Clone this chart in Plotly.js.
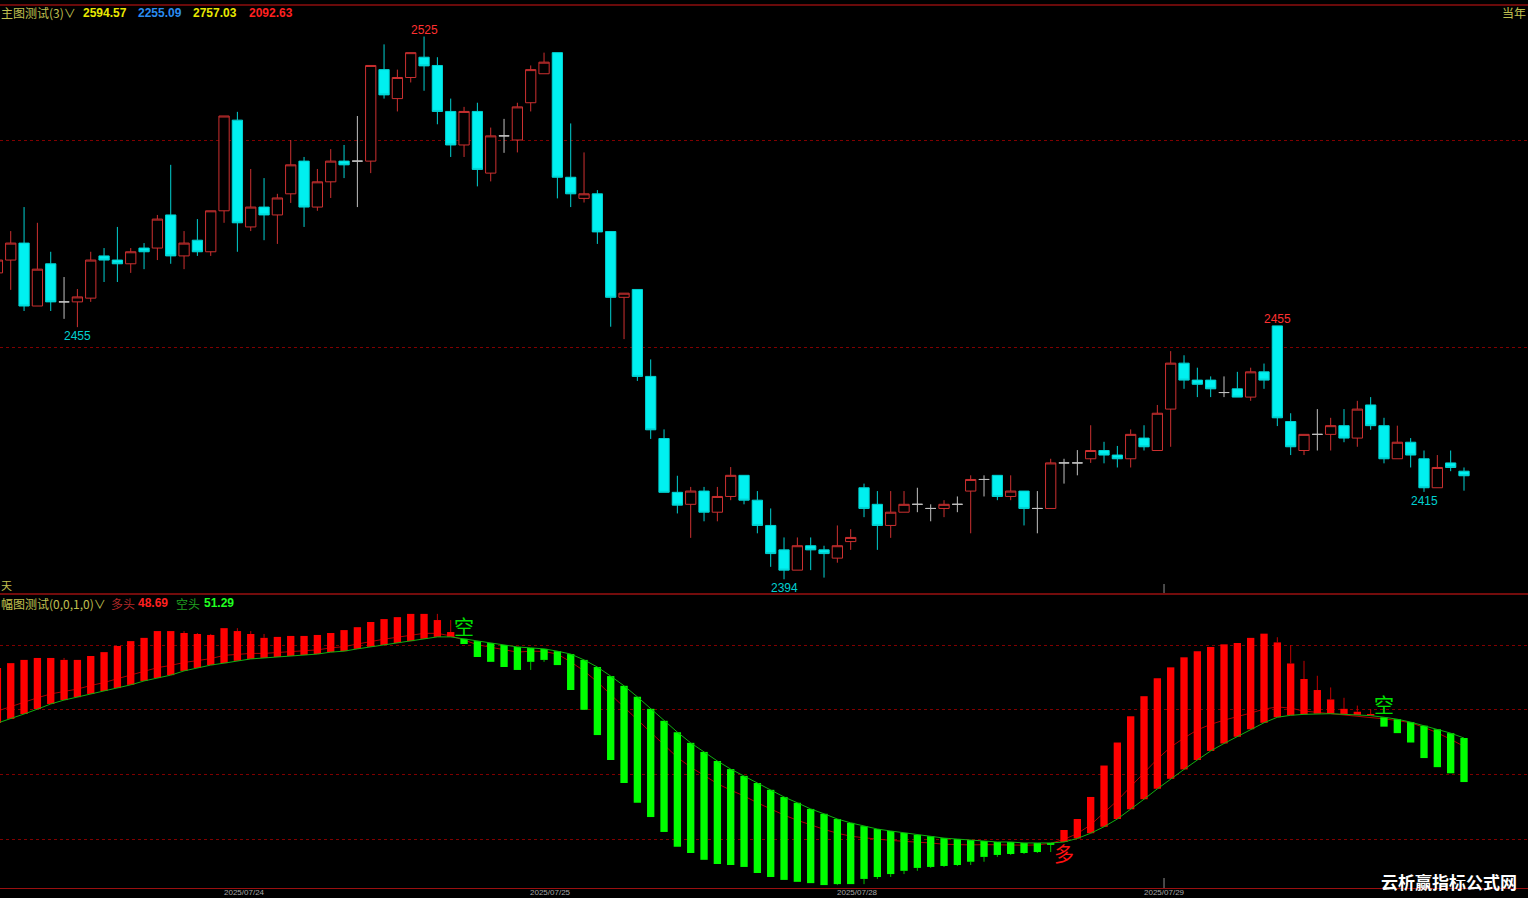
<!DOCTYPE html>
<html><head><meta charset="utf-8">
<script src="https://cdn.plot.ly/plotly-3.0.1.min.js"></script>
<style>html,body{margin:0;padding:0;background:#000;overflow:hidden}#chart{width:1528px;height:898px;}</style>
</head><body><div id="chart"></div>
<script>
// ---- main panel candles (index = bar number) ----
const openP = [2467.9,2471.0,2475.1,2459.9,2470.1,2460.9,2460.9,2461.8,2472.0,2471.0,
2470.1,2473.9,2473.9,2481.9,2472.0,2475.8,2473.0,2482.9,2504.8,2479.0,
2483.8,2481.9,2487.0,2494.9,2483.8,2489.9,2494.9,2494.9,2494.9,2517.0,
2510.0,2515.1,2520.0,2518.0,2506.9,2498.8,2506.9,2492.0,2501.0,2500.0,
2509.0,2516.0,2521.1,2491.0,2485.9,2487.0,2477.9,2462.0,2463.9,2442.9,
2427.9,2414.9,2412.0,2415.2,2410.1,2413.9,2419.0,2413.0,2406.9,2401.0,
2396.1,2402.0,2401.0,2399.0,2403.0,2416.0,2412.0,2406.9,2410.1,2412.0,
2411.0,2411.0,2412.0,2415.2,2418.0,2419.0,2413.9,2415.2,2411.0,2411.0,
2422.0,2422.0,2423.0,2425.0,2423.9,2423.0,2428.0,2425.0,2435.0,2446.1,
2442.0,2442.0,2439.0,2439.9,2437.9,2444.0,2455.1,2432.0,2425.0,2428.9,
2428.9,2431.0,2428.0,2436.0,2431.0,2423.0,2427.0,2423.0,2416.0,2422.0,
2420.0];
const highP = [2472.2,2478.0,2483.8,2480.0,2473.0,2466.9,2464.0,2473.0,2473.9,2479.0,
2473.9,2475.1,2481.9,2494.0,2478.0,2480.9,2482.9,2505.8,2506.8,2493.0,
2490.8,2487.0,2500.0,2495.9,2493.0,2497.8,2498.8,2505.8,2518.0,2523.1,
2517.0,2521.1,2525.0,2520.0,2510.0,2508.0,2509.0,2503.0,2505.1,2509.0,
2518.0,2521.1,2521.1,2504.0,2497.0,2487.9,2477.9,2463.0,2463.9,2447.0,
2430.1,2418.9,2416.2,2416.2,2416.2,2421.0,2419.0,2415.2,2411.0,2404.0,
2404.0,2404.0,2402.0,2406.9,2406.0,2417.0,2415.2,2415.2,2415.2,2416.0,
2412.0,2413.0,2413.9,2419.0,2419.0,2419.0,2419.0,2415.2,2415.2,2423.0,
2423.0,2425.1,2431.1,2427.1,2426.1,2430.1,2431.1,2436.0,2449.0,2448.0,
2445.0,2442.9,2442.9,2444.0,2445.0,2446.0,2455.1,2434.0,2428.9,2435.0,
2432.9,2435.0,2437.0,2437.9,2432.9,2431.0,2428.0,2425.0,2423.9,2425.0,
2420.9];
const lowP = [2466.7,2463.8,2458.7,2459.9,2458.7,2456.8,2454.8,2460.9,2465.7,2465.7,
2467.9,2468.8,2471.0,2470.1,2468.8,2472.0,2472.0,2480.0,2473.0,2478.0,
2475.8,2474.9,2484.8,2479.0,2482.9,2486.0,2490.8,2483.8,2492.0,2510.0,
2506.9,2513.9,2511.9,2503.8,2495.9,2495.9,2488.8,2490.0,2496.9,2497.0,
2506.9,2516.0,2485.9,2483.8,2484.9,2474.9,2454.9,2451.9,2441.8,2427.8,
2414.9,2409.8,2403.9,2407.9,2407.9,2413.0,2412.0,2405.0,2396.9,2393.9,
2396.1,2396.1,2394.3,2397.9,2401.0,2408.9,2401.0,2403.9,2410.1,2410.1,
2407.9,2408.9,2410.1,2405.0,2413.9,2413.0,2413.0,2406.9,2405.0,2411.0,
2417.0,2419.0,2422.0,2421.9,2420.9,2420.9,2425.0,2425.0,2425.9,2439.9,
2437.9,2437.9,2437.9,2437.9,2437.0,2439.9,2430.9,2423.9,2423.9,2425.0,
2425.0,2427.0,2425.9,2430.0,2421.9,2423.0,2420.9,2415.0,2416.0,2420.0,
2415.3];
const closeP = [2471.0,2475.1,2459.9,2468.8,2460.9,2460.9,2462.1,2471.0,2471.0,2470.1,
2473.0,2473.0,2480.9,2472.0,2475.1,2473.0,2482.9,2505.8,2480.0,2483.8,
2481.9,2486.0,2494.0,2483.8,2489.9,2494.9,2494.0,2494.9,2518.0,2510.9,
2515.1,2521.1,2517.9,2506.9,2498.8,2506.9,2492.9,2501.0,2501.0,2508.0,
2517.0,2518.8,2491.0,2487.0,2487.0,2477.8,2462.0,2463.0,2442.9,2430.0,
2414.9,2411.8,2415.2,2410.1,2413.9,2419.0,2413.0,2406.9,2400.1,2396.1,
2402.0,2401.0,2400.1,2402.0,2404.0,2411.0,2406.9,2410.1,2412.0,2412.0,
2411.0,2412.0,2412.0,2418.0,2418.0,2413.9,2415.2,2411.0,2411.0,2422.0,
2422.0,2422.0,2425.0,2423.9,2423.0,2428.9,2425.9,2434.0,2446.1,2442.0,
2441.0,2439.9,2439.0,2437.9,2444.0,2442.0,2432.9,2425.9,2428.9,2428.9,
2431.0,2428.0,2435.0,2431.0,2423.0,2427.0,2423.9,2416.0,2420.9,2420.9,
2418.9];

// ---- sub panel indicator ----
const indBear = [55.9,57.2,58.7,60.2,61.8,63.0,63.9,64.9,65.8,66.7,
67.7,68.9,69.8,70.7,72.0,72.9,73.8,74.4,75.1,75.7,
76.0,76.3,76.6,76.9,77.2,77.8,78.1,78.8,79.4,80.0,
80.6,81.2,81.9,82.5,82.5,81.9,81.2,80.6,80.0,79.4,
79.1,78.8,78.1,77.2,75.4,73.2,70.4,67.4,64.0,60.3,
56.6,53.1,49.8,47.0,44.2,41.7,39.6,37.4,35.3,33.1,
31.3,29.4,27.9,26.3,25.1,24.1,23.2,22.6,22.0,21.4,
21.0,20.4,20.1,19.8,19.5,19.2,19.2,18.9,18.9,18.9,
19.2,20.3,21.9,23.9,26.3,29.3,32.4,35.6,38.7,41.6,
44.5,47.3,49.6,51.7,54.0,56.0,57.7,58.3,58.6,58.8,
58.8,58.6,58.4,58.2,57.7,57.1,56.2,55.1,54.0,52.8,
51.29];
const indBull = [59.6,61.0,62.4,63.7,64.9,65.7,66.4,67.5,68.4,69.6,
70.7,71.8,73.0,73.7,74.6,75.2,75.8,76.8,77.1,77.4,
77.4,77.7,78.0,78.2,78.5,79.1,79.5,80.3,81.1,81.8,
82.4,83.0,83.6,83.6,82.8,81.5,80.1,79.3,78.5,77.8,
78.1,78.0,77.2,74.8,72.0,68.6,64.7,60.8,56.8,53.0,
49.1,45.3,42.3,39.7,37.2,35.2,33.4,31.3,29.4,27.5,
25.9,24.4,23.1,21.9,21.0,20.5,20.0,19.7,19.4,19.2,
18.9,18.5,18.3,18.3,18.4,18.3,18.4,18.2,18.3,18.8,
20.0,21.8,24.5,28.1,32.0,36.3,40.5,44.8,48.5,51.3,
53.8,55.5,56.8,57.8,59.0,60.2,60.9,60.5,59.6,59.2,
58.8,58.4,58.1,57.8,57.2,56.7,56.0,54.6,52.9,50.9,
48.69];
const indBar = [72.9,74.4,75.4,76.0,76.0,75.4,75.4,76.6,77.8,79.7,
81.2,82.2,84.3,84.3,83.7,83.4,83.1,85.2,84.3,83.4,
82.2,82.5,82.8,82.8,83.1,83.7,84.6,85.5,87.1,88.0,
88.6,89.6,89.6,87.7,84.0,80.3,76.3,74.8,73.2,72.3,
74.8,75.4,73.8,66.1,60.0,52.2,44.5,37.4,31.3,26.9,
22.3,17.7,15.8,13.7,12.4,12.1,11.5,9.6,8.4,7.5,
6.9,6.5,5.9,6.2,6.2,7.8,8.4,9.3,10.3,11.2,
11.5,11.8,12.1,13.1,14.6,15.2,15.5,15.8,16.1,18.3,
22.9,26.3,33.1,42.8,49.9,58.0,64.2,69.7,73.1,76.2,
78.1,79.4,80.2,80.6,82.2,83.5,80.8,74.3,69.5,66.1,
63.2,60.3,59.4,58.7,54.8,52.8,49.9,45.1,42.3,40.4,
37.7];
const indWick = [null,null,null,null,null,76.0,null,null,null,null,
null,null,null,null,84.3,83.7,83.4,null,85.2,84.3,
83.4,null,null,null,null,null,null,null,null,null,
null,null,null,89.6,87.7,null,null,null,null,null,
72.3,74.8,null,null,null,null,null,null,null,null,
null,null,null,null,null,null,null,null,null,null,
null,null,null,5.9,null,6.2,7.8,8.4,9.3,10.3,
11.2,11.5,11.8,12.1,13.1,14.6,15.2,15.5,15.8,16.1,
null,null,null,null,null,null,null,null,null,null,
null,null,null,null,null,null,82.4,80.0,75.1,70.5,
66.9,63.7,61.3,60.2,null,null,null,null,null,null,
null];

// ---- texts ----
const dayLabels = ['2025/07/24','2025/07/25','2025/07/28','2025/07/29'];
const dayBoundary = [18.5, 41.5, 64.5, 87.5];
const markIdx  = [6, 32, 59, 96, 107];
const markSide = ['low','high','low','high','low'];
const markText = ['2455','2525','2394','2455','2415'];
const mainTitle = '主图测试(3)';
const mainVals = ['2594.57','2255.09','2757.03','2092.63'];
const subTitle = '幅图测试(0,0,1,0)';
const bullName = '多头', bearName = '空头';
const signalIdx = [35, 80, 104];
const signalText = ['空','多','空'];

// ---------------- build ----------------
const N = openP.length;
const xs = openP.map((_, i) => i);
function pick(arr, cond){ const r=[]; for(let i=0;i<N;i++) if(cond(i)) r.push(arr[i]); return r; }
const isUp = i => closeP[i] > openP[i];
const isDn = i => closeP[i] < openP[i];
const isDoji = i => closeP[i] === openP[i];

function candle(cond, lineColor, fill){
  return {type:'candlestick', xaxis:'x', yaxis:'y',
    x: pick(xs,cond), open: pick(openP,cond), high: pick(highP,cond), low: pick(lowP,cond), close: pick(closeP,cond),
    increasing:{line:{color:lineColor,width:1}, fillcolor:fill},
    decreasing:{line:{color:lineColor,width:1}, fillcolor:fill},
    whiskerwidth:0, hoverinfo:'skip', showlegend:false};
}
const FONT = 'Liberation Sans, Arial, Noto Sans CJK SC, sans-serif';
const CJK = 'Noto Sans CJK SC, Liberation Sans, sans-serif';

const traces = [
  candle(isUp, '#cc3030', '#000000'),
  candle(isDn, '#00d2d2', '#00f0f0'),
  candle(isDoji, '#c0c0c0', '#c0c0c0'),
  {type:'scatter', mode:'lines', x:xs, y:indBull, xaxis:'x', yaxis:'y2', line:{color:'#b00000', width:1}, hoverinfo:'skip'},
  {type:'bar', x:xs, base:indBear, y:indBar.map((v,i)=>v-indBear[i]), xaxis:'x', yaxis:'y3', width:0.55,
    marker:{color:indBar.map((v,i)=> v>=indBear[i] ? '#ff0000' : '#00ff00'), line:{width:0}}, hoverinfo:'skip'},
  {type:'scatter', mode:'lines', x:xs, y:indBear, xaxis:'x', yaxis:'y3', line:{color:'#10b010', width:1}, hoverinfo:'skip'}
];
const wr={x:[],y:[]}, wg={x:[],y:[]};
for(let i=0;i<N;i++){
  if(indWick[i]===null) continue;
  const t = indBar[i]>=indBear[i] ? wr : wg;
  t.x.push(i,i,null); t.y.push(indBar[i], indWick[i], null);
}
traces.push({type:'scatter', mode:'lines', x:wr.x, y:wr.y, xaxis:'x', yaxis:'y3', line:{color:'#c00000', width:1}, hoverinfo:'skip', connectgaps:false});
traces.push({type:'scatter', mode:'lines', x:wg.x, y:wg.y, xaxis:'x', yaxis:'y3', line:{color:'#00c000', width:1}, hoverinfo:'skip', connectgaps:false});

const H = 898, W = 1528;
const py = p => 1 - p/H;
const px = p => p/W;
function txt(x, y, text, color, size, fam, anchor){
  return {xref:'paper', yref:'paper', x:px(x), y:py(y), text:text, showarrow:false,
    xanchor:anchor||'left', yanchor:'middle', font:{color:color, size:size||12, family:fam||CJK}, borderpad:0};
}
const ann = [];
ann.push(txt(0, 13, mainTitle + '∨', '#c0c050', 12, CJK));
const mainCols = ['#e8e800','#2a8cf0','#e8e800','#ff2020'];
const mainX = [82, 137, 192, 248];
mainVals.forEach((v,k)=> ann.push(txt(mainX[k], 13, '<b>'+v+'</b>', mainCols[k], 12, FONT)));
ann.push(txt(1527, 13, '当年', '#c0c050', 12, CJK, 'right'));
ann.push(txt(0, 585, '天', '#c0c050', 11, CJK));
ann.push(txt(0, 603, subTitle + '∨', '#c0c050', 12, CJK));
ann.push(txt(110, 603, bullName, '#b02828', 12, CJK));
ann.push(txt(137, 603, '<b>'+indBull[N-1].toFixed(2)+'</b>', '#ff2020', 12, FONT));
ann.push(txt(175, 603, bearName, '#20a020', 12, CJK));
ann.push(txt(203, 603, '<b>'+indBear[N-1].toFixed(2)+'</b>', '#20ff20', 12, FONT));
ann.push(txt(1518, 881, '<b>云析赢指标公式网</b>', '#ffffff', 17, CJK, 'right'));

markIdx.forEach((i,k)=>{
  const hi = markSide[k]==='high';
  ann.push({xref:'x', yref:'y', x:i, y: hi ? highP[i] : lowP[i], text:markText[k], showarrow:false,
    xanchor:'center', yanchor: hi ? 'bottom':'top', yshift: hi ? -1 : -1,
    font:{color: hi ? '#ff3030' : '#00d0d0', size:12, family:FONT}, borderpad:0});
});
// signal glyphs: placed at the indicator level (in sub-panel units) where they appear
const signalLevel = [85.6, 15.8, 61.5];
signalIdx.forEach((i,k)=>{
  const isShort = signalText[k]==='空';
  ann.push({xref:'x', yref:'y3', x:i, y:signalLevel[k], text:signalText[k], showarrow:false,
    xanchor:'center', yanchor:'middle',
    font:{color: isShort ? '#00e000' : '#ff1010', size:20, family:CJK}, borderpad:0});
});
// day labels at the bottom edge
dayLabels.forEach((d,k)=> ann.push({xref:'x', yref:'paper', x:dayBoundary[k], y:0, text:d, showarrow:false,
  xanchor:'center', yanchor:'bottom', font:{color:'#a8a8a8', size:8, family:FONT}, borderpad:0}));

const shapes = [
  {type:'line', xref:'paper', yref:'paper', x0:0, x1:1, y0:py(5), y1:py(5), line:{color:'#6a0a0a', width:2}},
  {type:'line', xref:'paper', yref:'paper', x0:0, x1:1, y0:py(594), y1:py(594), line:{color:'#9a1010', width:1.5}},
  {type:'line', xref:'paper', yref:'paper', x0:0, x1:1, y0:py(888.5), y1:py(888.5), line:{color:'#9a1010', width:1}},
  {type:'line', xref:'x', yref:'paper', x0:dayBoundary[3], x1:dayBoundary[3], y0:py(584), y1:py(593), line:{color:'#909090', width:1}},
  {type:'line', xref:'x', yref:'paper', x0:dayBoundary[3], x1:dayBoundary[3], y0:py(878), y1:py(888), line:{color:'#909090', width:1}}
];

const layout = {
  width:W, height:H, margin:{l:0,r:0,t:0,b:0,pad:0},
  paper_bgcolor:'#000', plot_bgcolor:'#000', showlegend:false, hovermode:false, dragmode:false,
  boxgap:0.23, boxgroupgap:0, barmode:'overlay',
  xaxis:{range:[0.195,114.8], anchor:'y2', showgrid:false, zeroline:false, showticklabels:false, ticks:'',
         showline:false, rangeslider:{visible:false}, fixedrange:true},
  yaxis:{domain:[1-593/H, 1-5/H], range:[2390.58,2532.61], tickvals:[2450,2500], showticklabels:false, ticks:'',
         gridcolor:'#800000', griddash:'dot', gridwidth:1, zeroline:false, showline:false, fixedrange:true},
  yaxis2:{domain:[1-888/H, 1-594/H], range:[5.0,95.74], tickvals:[20,40,60,80], showticklabels:false, ticks:'',
         gridcolor:'#800000', griddash:'dot', gridwidth:1, zeroline:false, showline:false, fixedrange:true},
  yaxis3:{overlaying:'y2', range:[5.0,95.74], visible:false, showgrid:false, zeroline:false, fixedrange:true},
  shapes:shapes, annotations:ann
};
Plotly.newPlot('chart', traces, layout, {staticPlot:true, displayModeBar:false});
</script></body></html>
